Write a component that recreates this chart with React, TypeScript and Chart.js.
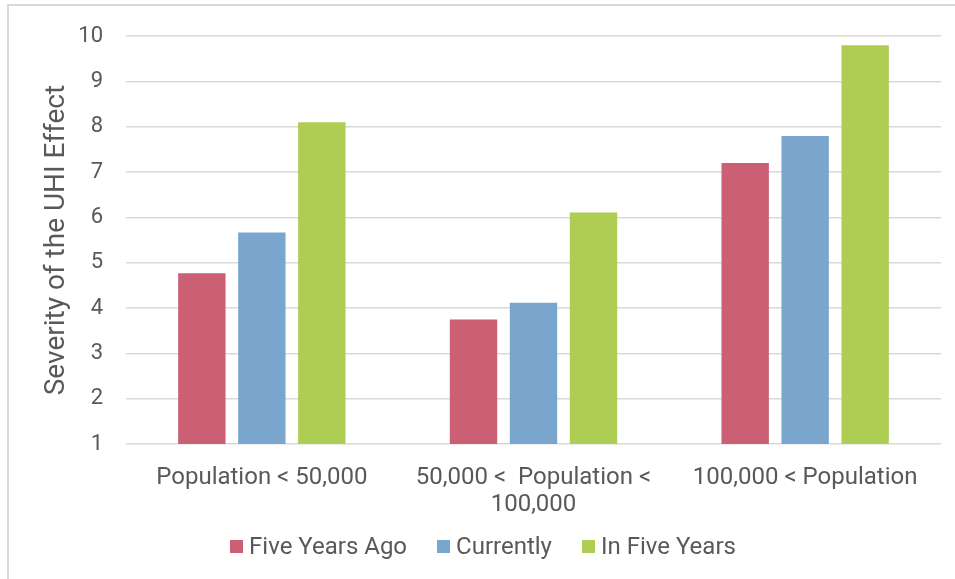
import React, { useEffect, useRef } from "react";
import { Chart, registerables } from "chart.js";

Chart.register(...registerables);

// Population size classes along the x axis (multi-line where the label wraps)
const categories: (string | string[])[] = [
  "Population < 50,000",
  ["50,000 <  Population <", "100,000"],
  "100,000 < Population",
];

// Perceived severity of the urban heat island effect, scale 1-10
const fiveYearsAgo = [4.77, 3.75, 7.2];
const currently = [5.67, 4.12, 7.8];
const inFiveYears = [8.1, 6.11, 9.8];

const seriesNames = ["Five Years Ago", "Currently", "In Five Years"];
const seriesColors = ["#CB6075", "#7AA6CE", "#AECD53"];

const yMin = 1;
const yMax = 10;
const yTitle = "Severity of the UHI Effect";

const textColor = "#595959";
const gridColor = "#D9D9D9";
const fontFamily = "Roboto, 'DejaVu Sans', sans-serif";

const padLeft = 40;

export default function App() {
  const canvasRef = useRef<HTMLCanvasElement | null>(null);

  useEffect(() => {
    const canvas = canvasRef.current;
    if (!canvas) return;

    const values = [fiveYearsAgo, currently, inFiveYears];

    const chart = new Chart(canvas, {
      type: "bar",
      data: {
        labels: categories,
        datasets: seriesNames.map((name, i) => ({
          label: name,
          data: values[i],
          backgroundColor: seriesColors[i],
          borderWidth: 0,
          categoryPercentage: 0.6625,
          barPercentage: 0.79,
        })),
      },
      options: {
        responsive: false,
        animation: false,
        layout: {
          padding: { left: padLeft, top: 34, right: 14, bottom: 60 },
        },
        plugins: {
          // the legend is rendered as HTML below the canvas area
          legend: { display: false },
          tooltip: { enabled: false },
        },
        scales: {
          x: {
            grid: { display: false, drawTicks: false },
            border: { display: false },
            ticks: {
              color: textColor,
              padding: 21,
              maxRotation: 0,
              autoSkip: false,
              font: { family: fontFamily, size: 24, lineHeight: 1.1 },
            },
            afterFit: (scale: any) => {
              scale.height = 75;
            },
          },
          y: {
            min: yMin,
            max: yMax,
            grid: {
              color: gridColor,
              lineWidth: 1.5,
              drawTicks: false,
            },
            border: { display: false },
            ticks: {
              stepSize: 1,
              color: textColor,
              padding: 23,
              font: { family: fontFamily, size: 22 },
            },
            title: {
              display: true,
              text: yTitle,
              color: textColor,
              padding: 0,
              font: { family: fontFamily, size: 28 },
            },
            afterFit: (scale: any) => {
              scale.width = 126 - padLeft;
            },
          },
        },
      },
    });

    return () => {
      chart.destroy();
    };
  }, []);

  return (
    <>
      <div
        style={{
          position: "fixed",
          left: 7,
          top: 4,
          right: 0,
          bottom: 0,
          borderLeft: `2px solid ${gridColor}`,
          borderTop: `2px solid ${gridColor}`,
          pointerEvents: "none",
        }}
      />
      <canvas
        ref={canvasRef}
        width={955}
        height={579}
        style={{ position: "fixed", left: 0, top: 0, display: "block" }}
      />
      <div
        style={{
          position: "fixed",
          left: 0,
          width: 966,
          top: 532,
          height: 28,
          display: "flex",
          justifyContent: "center",
          alignItems: "center",
          fontFamily,
          fontSize: 24,
          lineHeight: "28px",
          color: textColor,
          whiteSpace: "nowrap",
        }}
      >
        {seriesNames.map((name, i) => (
          <span
            key={name}
            style={{
              display: "inline-flex",
              alignItems: "center",
              marginLeft: i === 0 ? 0 : 30,
            }}
          >
            <span
              style={{
                display: "inline-block",
                width: 13,
                height: 13,
                background: seriesColors[i],
                marginRight: 6,
              }}
            />
            {name}
          </span>
        ))}
      </div>
    </>
  );
}
